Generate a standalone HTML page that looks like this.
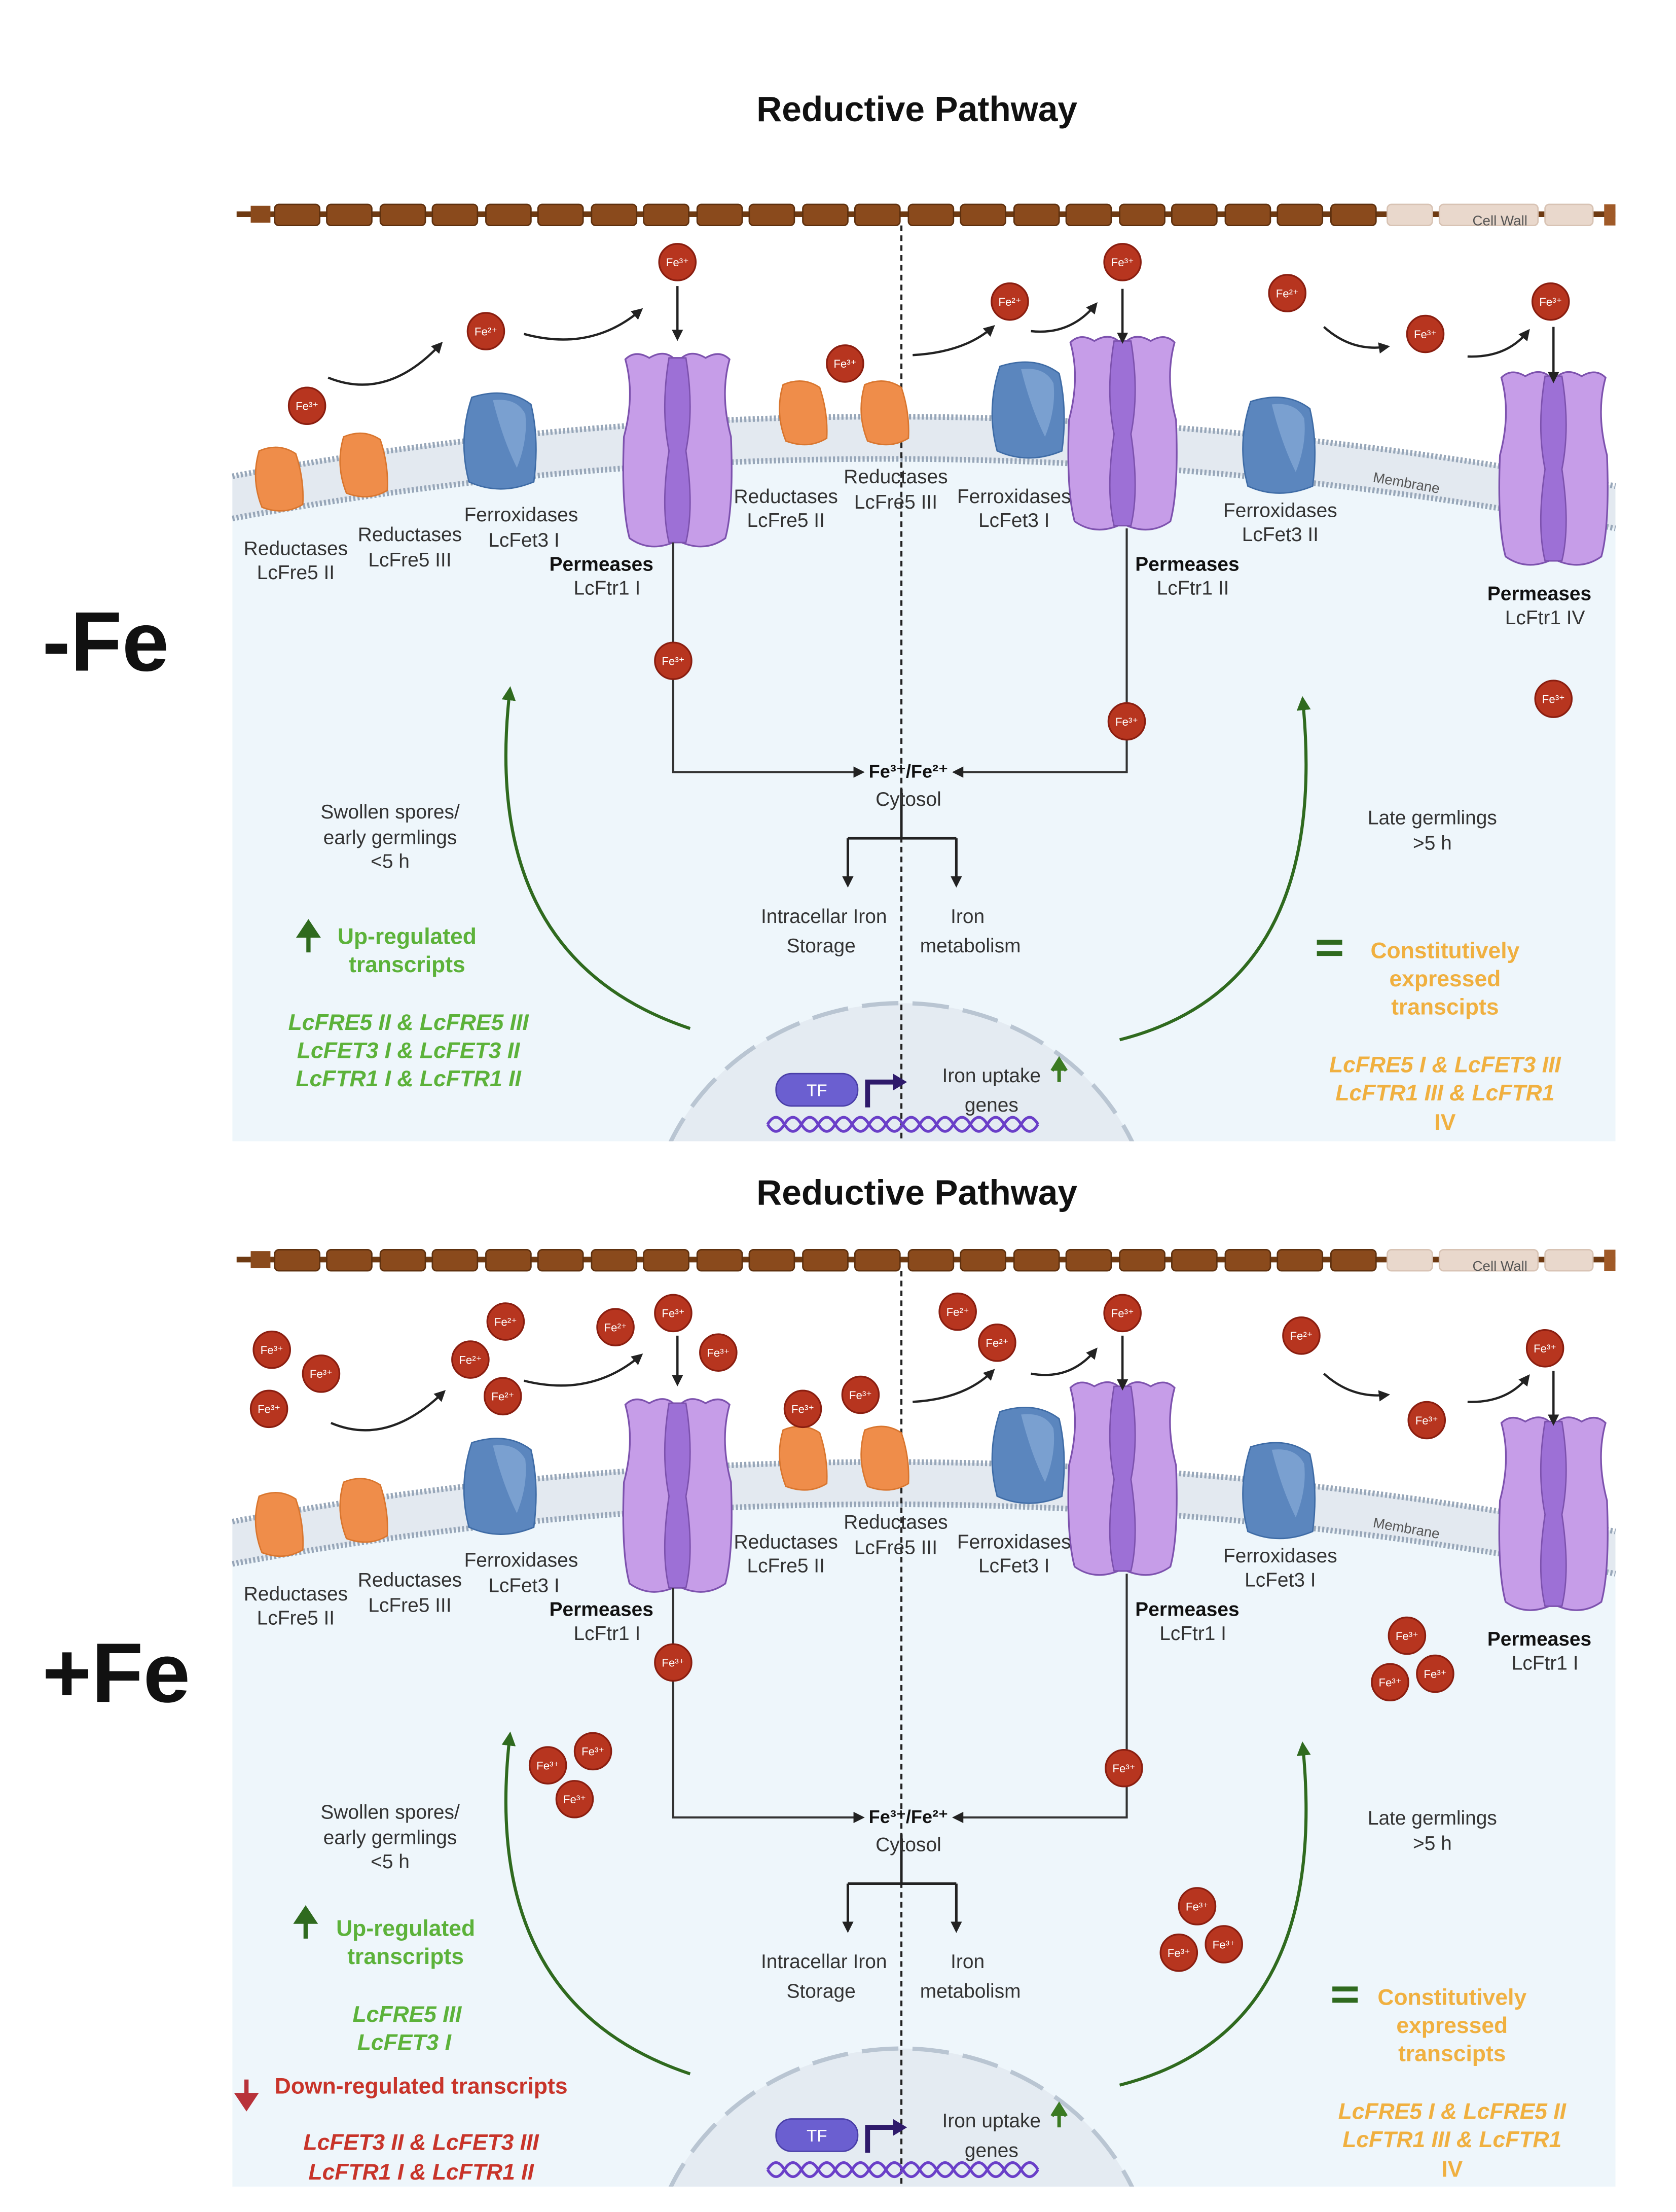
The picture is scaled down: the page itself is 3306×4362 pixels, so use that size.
<!DOCTYPE html>
<html><head><meta charset="utf-8"><style>
html,body{margin:0;padding:0;background:#fff;width:3306px;height:4362px;overflow:hidden}
svg{display:block}
text{font-family:"Liberation Sans",sans-serif}
.l{font-size:14px;fill:#333;text-anchor:middle}
.b{font-weight:bold;fill:#111}
.fe{font-size:8px;fill:#fff;text-anchor:middle}
.g{fill:#5cb23a;font-weight:bold;font-size:16px;text-anchor:middle}
.o{fill:#f0b040;font-weight:bold;font-size:16px;text-anchor:middle}
.r{fill:#c8342a;font-weight:bold;font-size:16px;text-anchor:middle}
</style></head><body>
<svg width="3306" height="4362" viewBox="0 0 1190 1570" xmlns="http://www.w3.org/2000/svg">
<defs>
<marker id="ah" markerWidth="8" markerHeight="8" refX="6" refY="4" orient="auto" markerUnits="userSpaceOnUse"><path d="M0,0 L8,4 L0,8 Z" fill="#222"/></marker>
<marker id="gh" markerWidth="10" markerHeight="10" refX="7" refY="5" orient="auto" markerUnits="userSpaceOnUse"><path d="M0,0 L10,5 L0,10 Z" fill="#2f6a1e"/></marker>
<g id="perm">
<path d="M-37,-65 Q-30,-72 -20,-66 Q-10,-72 -3,-66 L3,-66 Q10,-72 20,-66 Q30,-72 37,-65 Q30,-40 38,-10 Q40,40 34,62 Q20,72 3,65 L-3,65 Q-20,72 -34,62 Q-40,40 -38,-10 Q-30,-40 -37,-65 Z" fill="#c69de8" stroke="#7d52ae" stroke-width="1.2"/>
<path d="M-6,-66 Q-12,-30 -6,0 Q-12,40 -6,65 L6,65 Q12,40 6,0 Q12,-30 6,-66 Z" fill="#9d70d6" stroke="#7d52ae" stroke-width="1"/>
</g>
<g id="red"><path d="M-14,-20 Q0,-26 12,-18 Q18,0 17,18 Q4,26 -12,20 Q-20,0 -14,-20 Z" fill="#ef8d4a" stroke="#d9762f" stroke-width="1"/></g>
<g id="fox"><path d="M-20,-30 Q5,-38 22,-25 Q28,0 24,30 Q0,40 -22,30 Q-30,0 -20,-30 Z" fill="#5b86be" stroke="#3f6ca6" stroke-width="1"/><path d="M-5,-28 Q12,-30 18,-18 Q20,0 12,20 Q2,0 -5,-28Z" fill="#7aa0d0"/></g>
<g id="wall">
<line x1="168" y1="152" x2="1147" y2="152" stroke="#6e3a12" stroke-width="4"/>
<rect x="178" y="146" width="14" height="12" fill="#8a4a1c"/>
</g>
<clipPath id="pc"><rect x="165" y="0" width="982" height="810"/></clipPath>
<g id="base">
<path d="M165,338 Q640,250 1147,345 L1147,810 L165,810 Z" fill="#eef6fb"/>
<path d="M165,338 Q640,250 1147,345 L1147,375 Q640,280 165,368 Z" fill="#e3e9f0"/>
<path d="M165,338 Q640,250 1147,345" fill="none" stroke="#97a6b8" stroke-width="4" stroke-dasharray="1.5 1.5"/>
<path d="M165,368 Q640,280 1147,375" fill="none" stroke="#97a6b8" stroke-width="4" stroke-dasharray="1.5 1.5"/>
<g clip-path="url(#pc)">
<ellipse cx="640" cy="880" rx="180" ry="168" fill="#e4ebf2" stroke="#b9c5d2" stroke-width="3" stroke-dasharray="26 10"/>
</g>
<use href="#wall"/>
<g fill="#8a4a1c" stroke="#5e300e" stroke-width="1">
<rect x="195" y="145" width="32" height="15" rx="3"/><rect x="232" y="145" width="32" height="15" rx="3"/><rect x="270" y="145" width="32" height="15" rx="3"/><rect x="307" y="145" width="32" height="15" rx="3"/><rect x="345" y="145" width="32" height="15" rx="3"/><rect x="382" y="145" width="32" height="15" rx="3"/><rect x="420" y="145" width="32" height="15" rx="3"/><rect x="457" y="145" width="32" height="15" rx="3"/><rect x="495" y="145" width="32" height="15" rx="3"/><rect x="532" y="145" width="32" height="15" rx="3"/><rect x="570" y="145" width="32" height="15" rx="3"/><rect x="607" y="145" width="32" height="15" rx="3"/><rect x="645" y="145" width="32" height="15" rx="3"/><rect x="682" y="145" width="32" height="15" rx="3"/><rect x="720" y="145" width="32" height="15" rx="3"/><rect x="757" y="145" width="32" height="15" rx="3"/><rect x="795" y="145" width="32" height="15" rx="3"/><rect x="832" y="145" width="32" height="15" rx="3"/><rect x="870" y="145" width="32" height="15" rx="3"/><rect x="907" y="145" width="32" height="15" rx="3"/><rect x="945" y="145" width="32" height="15" rx="3"/>
</g>
<g fill="#e9d8cc" stroke="#d8c3b4" stroke-width="1">
<rect x="985" y="145" width="32" height="15" rx="3"/><rect x="1022" y="145" width="70" height="15" rx="3"/><rect x="1097" y="145" width="34" height="15" rx="3"/>
</g>
<rect x="1139" y="145" width="8" height="15" fill="#a05a28"/>
<text x="1065" y="160" font-size="10" fill="#555" text-anchor="middle">Cell Wall</text>
<text x="998" y="346" font-size="10" fill="#555" text-anchor="middle" transform="rotate(10 998 346)">Membrane</text>
<line x1="640" y1="160" x2="640" y2="810" stroke="#222" stroke-width="1.5" stroke-dasharray="4 3"/>
<use href="#red" x="198" y="340"/><use href="#red" x="258" y="330"/><use href="#red" x="570" y="293"/><use href="#red" x="628" y="293"/>
<use href="#fox" x="355" y="312"/><use href="#fox" x="730" y="290"/><use href="#fox" x="908" y="315"/>
<use href="#perm" x="481" y="320"/><use href="#perm" x="797" y="308"/><use href="#perm" x="1103" y="333"/>
<g stroke="#333" stroke-width="1.5" fill="none" marker-end="url(#ah)">
<path d="M478,385 L478,548 L612,548"/>
<path d="M800,375 L800,548 L678,548"/>
</g>
<g stroke="#222" stroke-width="1.8" fill="none">
<path d="M640,560 L640,595 M602,595 L679,595"/>
<path d="M602,595 L602,628" marker-end="url(#ah)"/><path d="M679,595 L679,628" marker-end="url(#ah)"/>
</g>
<text x="645" y="552" font-size="13" font-weight="bold" fill="#111" text-anchor="middle">Fe³⁺/Fe²⁺</text>
<text x="645" y="572" class="l">Cytosol</text>
<text x="585" y="655" class="l">Intracellar Iron</text><text x="583" y="676" class="l">Storage</text>
<text x="687" y="655" class="l">Iron</text><text x="689" y="676" class="l">metabolism</text>
<g stroke="#2f6a1e" stroke-width="2.2" fill="none" marker-end="url(#gh)">
<path d="M490,730 Q340,680 362,490"/>
<path d="M795,738 Q945,700 925,497"/>
</g>
<rect x="551" y="762" width="58" height="23" rx="11" fill="#6b5fd0" stroke="#4a3fa8"/>
<text x="580" y="778" font-size="12" fill="#fff" text-anchor="middle">TF</text>
<path d="M616,786 L616,768 L636,768" fill="none" stroke="#2e1a6b" stroke-width="3.5"/><path d="M634,762 L644,768 L634,774Z" fill="#2e1a6b"/>
<path d="M545,798 q6,-10 12,0 t12,0 t12,0 t12,0 t12,0 t12,0 t12,0 t12,0 t12,0 t12,0 t12,0 t12,0 t12,0 t12,0 t12,0 t12,0" fill="none" stroke="#6a3fc8" stroke-width="2"/>
<path d="M545,798 q6,10 12,0 t12,0 t12,0 t12,0 t12,0 t12,0 t12,0 t12,0 t12,0 t12,0 t12,0 t12,0 t12,0 t12,0 t12,0 t12,0" fill="none" stroke="#6a3fc8" stroke-width="2"/>
<text x="704" y="768" class="l">Iron uptake</text><text x="704" y="789" class="l">genes</text>
<path d="M752,768 L752,756 M747,760 L752,752 L757,760" stroke="#3b7a22" stroke-width="2.5" fill="#3b7a22"/>
<text x="210" y="394" class="l">Reductases</text><text x="210" y="411" class="l">LcFre5 II</text>
<text x="291" y="384" class="l">Reductases</text><text x="291" y="402" class="l">LcFre5 III</text>
<text x="370" y="370" class="l">Ferroxidases</text><text x="372" y="388" class="l">LcFet3 I</text>
<text x="427" y="405" class="l b">Permeases</text><text x="431" y="422" class="l">LcFtr1 I</text>
<text x="558" y="357" class="l">Reductases</text><text x="558" y="374" class="l">LcFre5 II</text>
<text x="636" y="343" class="l">Reductases</text><text x="636" y="361" class="l">LcFre5 III</text>
<text x="720" y="357" class="l">Ferroxidases</text><text x="720" y="374" class="l">LcFet3 I</text>
<text x="909" y="367" class="l">Ferroxidases</text>
<text x="843" y="405" class="l b">Permeases</text>
<text x="1093" y="426" class="l b">Permeases</text>
</g>
</defs>

<rect width="1190" height="1570" fill="#fff"/>
<!-- Panel 1 -->
<text x="651" y="86" font-size="25" font-weight="bold" fill="#111" text-anchor="middle">Reductive Pathway</text>
<use href="#base"/>
<text x="30" y="476" font-size="60" font-weight="bold" fill="#111">-Fe</text>
<text x="277" y="581" class="l">Swollen spores/</text><text x="277" y="599" class="l">early germlings</text><text x="277" y="616" class="l">&lt;5 h</text>
<text x="1017" y="585" class="l">Late germlings</text><text x="1017" y="603" class="l">&gt;5 h</text>
<text x="909" y="384" class="l">LcFet3 II</text>
<text x="847" y="422" class="l">LcFtr1 II</text>
<text x="1097" y="443" class="l">LcFtr1 IV</text>
<g stroke="#222" stroke-width="1.6" fill="none" marker-end="url(#ah)">
<path d="M233,268 Q275,285 313,244"/><path d="M372,237 Q420,250 455,220"/>
<path d="M648,252 Q685,250 705,232"/><path d="M732,235 Q760,238 778,216"/>
<path d="M940,232 Q960,250 985,246"/><path d="M1042,253 Q1070,254 1085,235"/>
<path d="M481,203 L481,240"/><path d="M797,205 L797,242"/><path d="M1103,232 L1103,270"/>
</g>
<g fill="#b7351f" stroke="#8a1e10" stroke-width="1.2">
<circle cx="481" cy="186" r="13"/><circle cx="345" cy="235" r="13"/><circle cx="218" cy="288" r="13"/><circle cx="600" cy="258" r="13"/><circle cx="717" cy="214" r="13"/><circle cx="797" cy="186" r="13"/><circle cx="914" cy="208" r="13"/><circle cx="1012" cy="237" r="13"/><circle cx="1101" cy="214" r="13"/><circle cx="478" cy="469" r="13"/><circle cx="800" cy="512" r="13"/><circle cx="1103" cy="496" r="13"/>
</g>
<g class="fe">
<text x="481" y="189" class="fe">Fe³⁺</text><text x="345" y="238" class="fe">Fe²⁺</text><text x="218" y="291" class="fe">Fe³⁺</text><text x="600" y="261" class="fe">Fe³⁺</text><text x="717" y="217" class="fe">Fe²⁺</text><text x="797" y="189" class="fe">Fe³⁺</text><text x="914" y="211" class="fe">Fe²⁺</text><text x="1012" y="240" class="fe">Fe³⁺</text><text x="1101" y="217" class="fe">Fe³⁺</text><text x="478" y="472" class="fe">Fe³⁺</text><text x="800" y="515" class="fe">Fe³⁺</text><text x="1103" y="499" class="fe">Fe³⁺</text>
</g>
<path d="M219,676 L219,660 M213,664 L219,655 L225,664Z" stroke="#2f6a1e" stroke-width="3" fill="#2f6a1e"/>
<text x="289" y="670" class="g">Up-regulated</text><text x="289" y="690" class="g">transcripts</text>
<text x="290" y="731" class="g" font-style="italic">LcFRE5 II &amp; LcFRE5 III</text>
<text x="290" y="751" class="g" font-style="italic">LcFET3 I &amp; LcFET3 II</text>
<text x="290" y="771" class="g" font-style="italic">LcFTR1 I &amp; LcFTR1 II</text>
<rect x="935" y="667" width="18" height="3.5" fill="#2f6a1e"/><rect x="935" y="675" width="18" height="3.5" fill="#2f6a1e"/>
<text x="1026" y="680" class="o">Constitutively</text><text x="1026" y="700" class="o">expressed</text><text x="1026" y="720" class="o">transcipts</text>
<text x="1026" y="761" class="o" font-style="italic">LcFRE5 I &amp; LcFET3 III</text>
<text x="1026" y="781" class="o" font-style="italic">LcFTR1 III &amp; LcFTR1</text>
<text x="1026" y="802" class="o">IV</text>

<!-- Panel 2 -->
<text x="651" y="855" font-size="25" font-weight="bold" fill="#111" text-anchor="middle">Reductive Pathway</text>
<use href="#base" y="742"/>
<text x="30" y="1208" font-size="60" font-weight="bold" fill="#111">+Fe</text>
<text x="277" y="1291" class="l">Swollen spores/</text><text x="277" y="1309" class="l">early germlings</text><text x="277" y="1326" class="l">&lt;5 h</text>
<text x="1017" y="1295" class="l">Late germlings</text><text x="1017" y="1313" class="l">&gt;5 h</text>
<text x="909" y="1126" class="l">LcFet3 I</text>
<text x="847" y="1164" class="l">LcFtr1 I</text>
<text x="1097" y="1185" class="l">LcFtr1 I</text>
<g stroke="#222" stroke-width="1.6" fill="none" marker-end="url(#ah)">
<path d="M235,1010 Q275,1027 315,988"/><path d="M372,980 Q420,992 455,962"/>
<path d="M648,995 Q685,993 705,973"/><path d="M732,975 Q760,980 778,958"/>
<path d="M940,975 Q960,993 985,990"/><path d="M1042,995 Q1070,996 1085,977"/>
<path d="M481,948 L481,982"/><path d="M797,948 L797,985"/><path d="M1103,973 L1103,1010"/>
</g>
<g fill="#b7351f" stroke="#8a1e10" stroke-width="1.2">
<circle cx="193" cy="958" r="13"/><circle cx="228" cy="975" r="13"/><circle cx="191" cy="1000" r="13"/><circle cx="359" cy="938" r="13"/><circle cx="334" cy="965" r="13"/><circle cx="357" cy="991" r="13"/><circle cx="437" cy="942" r="13"/><circle cx="478" cy="932" r="13"/><circle cx="510" cy="960" r="13"/><circle cx="570" cy="1000" r="13"/><circle cx="611" cy="990" r="13"/><circle cx="680" cy="931" r="13"/><circle cx="708" cy="953" r="13"/><circle cx="797" cy="932" r="13"/><circle cx="924" cy="948" r="13"/><circle cx="1013" cy="1008" r="13"/><circle cx="1097" cy="957" r="13"/><circle cx="999" cy="1161" r="13"/><circle cx="987" cy="1194" r="13"/><circle cx="1019" cy="1188" r="13"/><circle cx="478" cy="1180" r="13"/><circle cx="798" cy="1255" r="13"/><circle cx="389" cy="1253" r="13"/><circle cx="421" cy="1243" r="13"/><circle cx="408" cy="1277" r="13"/><circle cx="850" cy="1353" r="13"/><circle cx="837" cy="1386" r="13"/><circle cx="869" cy="1380" r="13"/>
</g>
<g>
<text x="193" y="961" class="fe">Fe³⁺</text><text x="228" y="978" class="fe">Fe³⁺</text><text x="191" y="1003" class="fe">Fe³⁺</text><text x="359" y="941" class="fe">Fe²⁺</text><text x="334" y="968" class="fe">Fe²⁺</text><text x="357" y="994" class="fe">Fe²⁺</text><text x="437" y="945" class="fe">Fe²⁺</text><text x="478" y="935" class="fe">Fe³⁺</text><text x="510" y="963" class="fe">Fe³⁺</text><text x="570" y="1003" class="fe">Fe³⁺</text><text x="611" y="993" class="fe">Fe³⁺</text><text x="680" y="934" class="fe">Fe²⁺</text><text x="708" y="956" class="fe">Fe²⁺</text><text x="797" y="935" class="fe">Fe³⁺</text><text x="924" y="951" class="fe">Fe²⁺</text><text x="1013" y="1011" class="fe">Fe³⁺</text><text x="1097" y="960" class="fe">Fe³⁺</text><text x="999" y="1164" class="fe">Fe³⁺</text><text x="987" y="1197" class="fe">Fe³⁺</text><text x="1019" y="1191" class="fe">Fe³⁺</text><text x="478" y="1183" class="fe">Fe³⁺</text><text x="798" y="1258" class="fe">Fe³⁺</text><text x="389" y="1256" class="fe">Fe³⁺</text><text x="421" y="1246" class="fe">Fe³⁺</text><text x="408" y="1280" class="fe">Fe³⁺</text><text x="850" y="1356" class="fe">Fe³⁺</text><text x="837" y="1389" class="fe">Fe³⁺</text><text x="869" y="1383" class="fe">Fe³⁺</text>
</g>
<path d="M217,1376 L217,1360 M211,1364 L217,1355 L223,1364Z" stroke="#2f6a1e" stroke-width="3" fill="#2f6a1e"/>
<text x="288" y="1374" class="g">Up-regulated</text><text x="288" y="1394" class="g">transcripts</text>
<text x="289" y="1435" class="g" font-style="italic">LcFRE5 III</text>
<text x="287" y="1455" class="g" font-style="italic">LcFET3 I</text>
<path d="M175,1476 L175,1490 M169,1487 L175,1496 L181,1487Z" stroke="#b8323a" stroke-width="3" fill="#b8323a"/>
<text x="299" y="1486" class="r">Down-regulated transcripts</text>
<text x="299" y="1526" class="r" font-style="italic">LcFET3 II &amp; LcFET3 III</text>
<text x="299" y="1547" class="r" font-style="italic">LcFTR1 I &amp; LcFTR1 II</text>
<rect x="946" y="1410" width="18" height="3.5" fill="#2f6a1e"/><rect x="946" y="1418" width="18" height="3.5" fill="#2f6a1e"/>
<text x="1031" y="1423" class="o">Constitutively</text><text x="1031" y="1443" class="o">expressed</text><text x="1031" y="1463" class="o">transcipts</text>
<text x="1031" y="1504" class="o" font-style="italic">LcFRE5 I &amp; LcFRE5 II</text>
<text x="1031" y="1524" class="o" font-style="italic">LcFTR1 III &amp; LcFTR1</text>
<text x="1031" y="1545" class="o">IV</text>
</svg>
</body></html>
